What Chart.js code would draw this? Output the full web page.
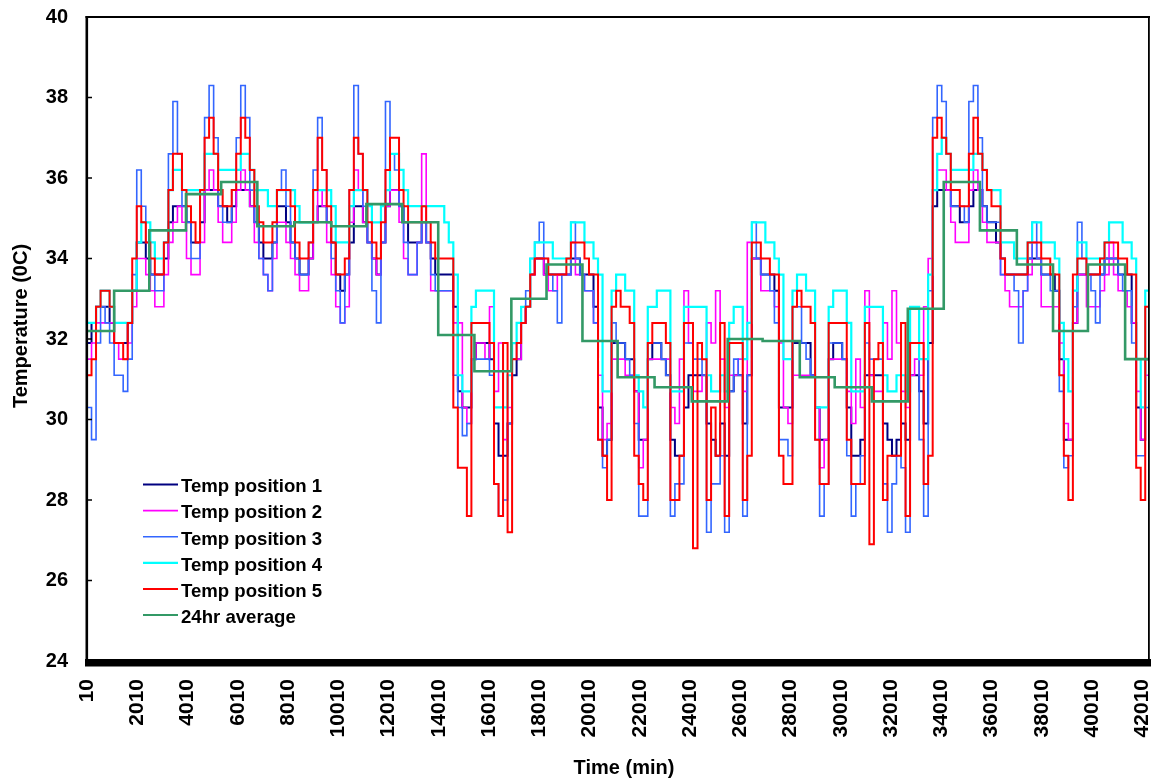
<!DOCTYPE html>
<html>
<head>
<meta charset="utf-8">
<script src="https://cdn.jsdelivr.net/npm/chart.js@4.4.1/dist/chart.umd.min.js"></script>
<style>
html,body{margin:0;padding:0;background:#fff;}
#wrap{position:relative;width:1151px;height:780px;}
</style>
</head>
<body>
<div id="wrap"><canvas id="c" width="1151" height="780"></canvas></div>
<script>
// ---- data (minutes, °C) ----
const sampleMinutes = Array.from({length: 236}, (_, i) => 10 + 180 * i);

const tempPosition1 = [
31.9,32.4,32.8,32.8,32.8,32.4,31.9,31.9,31.9,32.4,
33.2,34.4,34.4,34.0,33.6,33.6,33.6,34.0,34.9,35.3,
35.3,35.3,34.9,34.4,34.4,34.9,35.7,35.7,35.7,35.3,
35.3,34.9,35.3,35.7,35.7,35.7,35.3,34.9,34.4,34.0,
34.0,34.4,35.3,35.3,34.9,34.4,34.0,33.6,33.6,34.0,
34.9,35.3,35.3,34.9,34.4,33.6,33.2,33.6,34.4,35.3,
35.3,34.9,34.4,34.0,33.6,34.4,35.3,35.7,35.7,35.3,
34.9,34.4,34.4,34.4,34.9,34.4,34.0,33.6,33.6,33.6,
33.6,32.8,30.7,30.3,30.3,31.5,31.9,31.9,31.9,31.5,
29.9,29.1,29.1,29.9,31.1,31.5,32.4,32.8,33.6,34.0,
34.0,33.6,33.6,33.6,33.6,33.6,33.6,34.0,34.0,33.6,
33.6,33.6,32.8,30.3,29.1,29.5,31.9,31.9,31.9,31.5,
31.5,30.7,29.5,29.5,31.5,31.9,31.9,31.5,31.1,29.5,
29.1,29.1,30.3,31.1,31.1,31.1,31.1,29.9,29.5,29.1,
29.9,29.1,30.7,31.1,31.1,29.9,31.1,34.0,34.0,33.6,
33.6,33.6,33.2,30.3,30.3,30.3,31.9,31.9,31.9,31.9,
31.1,30.3,29.5,29.5,31.5,31.9,31.9,31.5,30.3,29.1,
29.1,29.5,31.1,31.1,31.1,31.1,29.9,29.5,29.1,29.5,
29.9,29.5,31.1,31.1,30.7,29.9,31.9,35.3,35.7,35.7,
35.7,35.3,35.3,34.9,34.9,35.3,35.7,35.7,35.3,34.9,
34.9,34.4,34.0,33.6,33.6,33.6,33.6,33.6,34.0,34.0,
34.0,33.6,33.6,33.6,33.2,31.5,29.5,29.5,32.4,33.6,
33.6,33.6,33.6,33.6,33.6,34.0,34.0,34.0,33.6,33.6,
33.6,32.4,30.3,29.5,31.5,32.4];

const tempPosition2 = [
31.5,31.9,32.4,32.4,32.4,32.4,31.9,31.5,31.5,31.9,
32.8,34.0,34.0,33.6,33.2,32.8,32.8,33.6,34.4,34.9,
35.3,34.9,34.0,33.6,33.6,34.4,35.7,36.2,35.7,34.9,
34.4,34.4,34.9,35.7,36.2,35.7,35.3,34.4,34.0,33.6,
33.2,34.0,34.9,34.9,34.4,34.0,33.6,33.2,33.2,34.0,
34.9,35.7,35.3,34.4,33.6,32.8,32.4,32.8,34.9,36.2,
35.7,34.9,34.4,34.0,33.6,34.4,35.3,35.7,35.7,34.9,
34.0,33.6,33.6,34.4,36.6,34.4,33.2,33.2,33.2,33.2,
33.2,32.4,32.4,30.3,29.9,31.5,31.9,31.9,31.5,32.8,
30.7,31.9,29.5,30.3,31.5,31.5,32.4,32.8,33.6,34.0,
34.0,33.6,33.2,33.2,33.6,33.6,33.6,34.4,33.6,33.6,
33.2,33.2,32.4,31.1,29.5,29.9,31.5,31.5,31.5,31.1,
31.1,30.7,28.8,29.5,31.5,31.5,31.5,31.5,31.5,30.3,
29.9,31.5,33.2,31.9,30.7,30.7,31.1,32.4,31.9,33.2,
31.5,30.3,31.1,31.1,31.5,30.7,34.4,34.0,34.0,33.2,
33.2,33.2,32.8,31.9,30.3,29.9,31.1,31.1,31.1,31.1,
31.1,30.3,28.8,29.5,31.5,31.5,31.5,31.5,30.7,29.9,
31.5,30.3,33.2,31.1,30.7,30.7,32.4,31.5,33.2,31.9,
30.7,30.3,31.1,31.5,31.1,32.8,34.0,35.7,36.2,36.2,
35.7,34.9,34.4,34.4,34.4,35.7,36.2,35.7,34.9,34.4,
34.4,34.4,33.6,33.2,32.8,32.8,32.8,33.2,33.6,34.4,
34.0,32.8,32.8,32.8,32.8,31.9,29.9,29.5,32.4,33.6,
33.6,32.8,32.8,32.8,33.2,33.6,34.4,33.6,33.2,33.2,
32.8,32.4,30.7,29.5,31.1,31.9];

const tempPosition3 = [
30.3,29.5,31.9,32.8,32.4,31.9,31.1,31.1,30.7,31.5,
33.6,36.2,35.3,34.4,33.6,33.2,33.2,34.4,36.6,37.9,
36.6,35.3,34.9,34.0,34.0,35.7,37.5,38.3,37.0,35.3,
34.9,34.9,35.7,37.0,38.3,37.5,35.7,34.9,34.0,33.6,
33.2,34.4,35.7,36.2,35.3,34.4,34.0,33.6,33.6,34.4,
36.2,37.5,36.2,34.9,34.0,33.2,32.4,33.6,35.7,38.3,
36.6,35.3,34.4,33.2,32.4,34.4,37.9,36.6,36.2,35.3,
34.4,33.6,33.6,34.4,34.9,34.4,33.6,33.2,33.2,33.2,
33.2,31.1,30.3,29.6,29.9,31.5,31.5,31.5,31.5,31.1,
28.4,27.6,28.0,29.9,31.5,31.9,32.4,33.2,34.0,34.4,
34.9,34.0,33.6,33.2,32.4,33.6,33.6,34.9,34.0,33.6,
33.2,33.2,32.4,29.5,28.8,29.5,32.4,31.9,31.9,31.5,
31.1,29.9,27.6,27.6,31.9,31.9,31.9,31.5,31.1,27.6,
28.4,28.4,31.9,31.9,31.5,31.5,31.1,27.2,28.4,28.4,
29.1,27.2,30.7,31.5,31.1,27.6,31.1,34.9,34.0,33.6,
33.6,33.2,32.4,29.5,29.5,29.1,32.8,32.8,31.9,31.5,
31.1,29.5,27.6,28.4,31.9,31.9,31.9,31.5,29.1,27.6,
28.4,29.1,31.9,31.5,31.5,31.5,28.4,27.2,28.4,29.1,
28.8,27.2,31.9,31.9,29.5,27.6,33.2,37.5,38.3,37.9,
36.6,35.3,35.3,35.3,34.9,37.9,38.3,37.0,35.3,34.9,
34.9,34.9,33.6,33.6,33.6,33.2,31.9,33.2,34.0,34.9,
34.0,33.6,33.6,33.2,33.2,30.7,28.8,29.1,32.8,34.9,
34.0,33.6,33.2,32.4,33.6,34.0,34.0,34.0,33.6,33.2,
33.2,31.9,29.1,29.1,30.3,32.4];

const tempPosition4 = [
32.4,32.4,32.8,33.2,33.2,32.8,32.4,32.4,32.4,32.4,
33.2,34.4,34.9,34.9,34.4,34.0,34.0,34.4,35.7,36.2,
36.2,35.7,35.7,35.7,35.7,35.7,36.6,36.6,36.6,36.2,
36.2,36.2,36.2,36.2,36.6,36.6,36.2,35.7,35.7,35.7,
35.3,35.3,35.7,35.7,35.7,35.7,35.3,34.9,34.9,34.9,
35.7,35.7,35.7,35.7,35.3,34.4,34.4,34.4,35.3,35.7,
35.7,35.7,35.3,34.9,34.9,35.3,35.7,36.6,36.6,36.2,
35.7,35.3,35.3,35.3,35.3,35.3,35.3,35.3,35.3,34.9,
34.4,33.6,31.1,30.7,30.7,32.8,33.2,33.2,33.2,33.2,
30.3,30.3,30.3,31.1,31.9,32.4,32.8,32.8,34.0,34.4,
34.4,34.4,34.4,34.0,34.0,34.0,34.0,34.9,34.9,34.9,
34.4,34.4,34.0,33.6,30.7,30.7,33.2,33.6,33.6,33.2,
33.2,31.1,30.7,30.3,32.8,32.8,33.2,33.2,33.2,30.7,
30.7,30.7,32.8,32.8,32.8,32.8,32.8,31.1,30.7,30.7,
31.1,30.7,32.4,32.8,32.8,31.5,32.4,34.9,34.9,34.9,
34.4,34.4,34.0,33.6,31.5,31.5,33.2,33.6,33.6,33.2,
33.2,30.3,30.3,30.3,32.8,33.2,33.2,33.2,32.4,30.7,
30.7,30.7,32.8,32.8,32.8,32.8,31.1,30.7,30.7,31.1,
31.1,30.7,32.8,32.8,31.5,31.5,33.6,35.7,36.6,37.0,
36.6,36.2,36.2,36.2,36.2,36.2,36.6,36.6,36.2,35.7,
35.7,35.7,34.4,34.4,34.4,34.0,34.0,34.0,34.4,34.9,
34.9,34.4,34.4,34.4,34.0,32.4,31.5,30.7,33.2,34.4,
34.4,34.0,34.0,34.0,34.0,34.4,34.9,34.9,34.9,34.4,
34.4,34.0,31.5,30.3,33.2,33.2];

const tempPosition5 = [
31.1,31.5,32.8,33.2,33.2,32.8,31.9,31.9,31.5,32.4,
34.0,35.3,34.9,34.4,34.0,33.6,33.6,34.4,35.7,36.6,
36.6,35.7,35.3,34.9,34.4,35.7,37.0,37.5,36.6,35.7,
35.3,35.3,35.7,36.6,37.5,37.0,36.2,35.3,34.9,34.4,
34.4,34.9,35.7,35.7,35.7,35.3,34.4,34.0,34.0,34.4,
35.7,37.0,36.2,35.3,34.4,33.6,33.6,34.0,35.7,37.0,
36.6,35.7,34.9,34.4,34.0,34.9,36.2,37.0,37.0,35.7,
35.3,34.9,34.9,34.9,35.3,34.9,34.4,34.0,34.0,34.0,
34.0,30.3,28.8,28.8,27.6,32.4,32.4,32.4,32.4,31.9,
28.4,27.6,31.9,27.2,31.5,31.9,32.4,32.8,33.6,34.0,
34.0,34.0,33.6,33.6,33.6,33.6,34.0,34.4,34.4,34.4,
34.0,33.6,33.6,29.5,29.1,28.0,32.8,33.2,32.8,32.8,
32.4,29.1,28.4,28.0,31.9,32.4,32.4,32.4,31.9,28.0,
28.0,29.1,32.4,32.4,26.8,31.9,31.5,28.0,30.3,29.1,
32.4,27.6,31.9,31.9,31.9,28.0,29.1,34.4,34.4,34.0,
34.0,33.6,33.6,29.1,28.4,28.4,32.8,33.2,32.8,32.8,
32.4,29.5,28.4,28.4,32.4,32.4,32.4,32.4,29.5,28.4,
28.4,28.4,32.4,26.9,31.5,31.9,28.0,29.1,29.1,29.1,
32.4,27.6,31.9,31.9,31.9,28.4,29.1,37.0,37.5,37.0,
36.6,35.7,35.7,35.3,35.3,36.6,37.5,36.6,36.2,35.7,
35.3,35.3,34.0,33.6,33.6,33.6,33.6,33.6,34.4,34.4,
34.4,34.0,34.0,33.6,33.6,31.1,29.1,28.0,33.6,34.0,
34.0,33.6,33.6,33.6,34.0,34.4,34.4,34.4,34.0,34.0,
33.6,33.6,28.8,28.0,32.8,32.8];

const avgMinutes = [10,1090,2490,3950,5350,6790,8260,9730,11130,12560,13990,15430,16900,18300,19730,21130,22600,24080,25510,26900,28380,29770,31250,32680,34110,35550,37020,38460,39850,41330,42280];
const avgValues  = [32.2,33.2,34.7,35.6,35.9,34.8,34.9,34.8,35.35,34.9,32.1,31.2,33.0,33.85,31.95,31.05,30.8,30.45,32.0,31.95,31.05,30.8,30.45,32.75,35.9,34.7,33.85,32.2,33.85,31.5,31.5];

const xTickMinutes = [10,2010,4010,6010,8010,10010,12010,14010,16010,18010,20010,22010,24010,26010,28010,30010,32010,34010,36010,38010,40010,42010];
const seriesLabels = ['Temp position 1','Temp position 2','Temp position 3','Temp position 4','Temp position 5','24hr average'];
const xTitle = 'Time (min)';
const yTitle = 'Temperature (0C)';

// ---- chart ----
const FONT = '"Liberation Sans", Arial, Helvetica, sans-serif';
Chart.defaults.font.family = FONT;
Chart.defaults.color = '#000';

function toPoints(xs, ys) { return ys.map((v, i) => ({x: xs[i], y: v})); }

const colors = ['#000080', '#FF00FF', '#3366FF', '#00FFFF', '#FF0000', '#339966'];
const widths = [2, 1.6, 1.6, 2.2, 2, 2.6];
const orders = [6, 5, 4, 3, 2, 1];
const seriesData = [tempPosition1, tempPosition2, tempPosition3, tempPosition4, tempPosition5];

const datasets = seriesData.map((vals, i) => ({
  label: seriesLabels[i],
  data: toPoints(sampleMinutes, vals),
  borderColor: colors[i], backgroundColor: colors[i],
  borderWidth: widths[i], order: orders[i],
  pointRadius: 0, stepped: true, tension: 0, fill: false
}));
datasets.push({
  label: seriesLabels[5],
  data: toPoints(avgMinutes, avgValues),
  borderColor: colors[5], backgroundColor: colors[5],
  borderWidth: widths[5], order: orders[5],
  pointRadius: 0, stepped: true, tension: 0, fill: false
});

const decor = {
  id: 'decor',
  afterDraw(chart) {
    const {ctx, chartArea: a, scales: {y}} = chart;
    ctx.save();
    ctx.fillStyle = '#000';
    // frame
    ctx.fillRect(a.left - 1.5, a.top - 1, 2.6, a.bottom - a.top + 2);
    ctx.fillRect(a.left - 1.5, a.top - 1, a.right - a.left + 2.5, 2);
    ctx.fillRect(a.right - 1, a.top - 1, 1.8, a.bottom - a.top + 2);
    // thick category axis bar
    ctx.fillRect(a.left - 2, a.bottom - 2, a.right - a.left + 4, 7.5);
    // y tick marks (inside)
    y.ticks.forEach(t => {
      const py = y.getPixelForValue(t.value);
      ctx.fillRect(a.left, py - 0.75, 5, 1.5);
    });
    // axis titles
    ctx.font = 'bold 20px ' + FONT;
    ctx.textAlign = 'center';
    ctx.textBaseline = 'alphabetic';
    ctx.fillText(xTitle, 624, 773.5);
    ctx.save();
    ctx.translate(26.5, 326);
    ctx.rotate(-Math.PI / 2);
    ctx.fillText(yTitle, 0, 0);
    ctx.restore();
    // legend
    ctx.font = 'bold 18.6px ' + FONT;
    ctx.textAlign = 'left';
    chart.data.datasets.forEach((ds, i) => {
      const ly = 484.5 + 26.1 * i;
      ctx.strokeStyle = ds.borderColor;
      ctx.lineWidth = Math.min(ds.borderWidth, 2.2);
      ctx.beginPath();
      ctx.moveTo(143, ly);
      ctx.lineTo(178, ly);
      ctx.stroke();
      ctx.fillStyle = '#000';
      ctx.fillText(ds.label, 181, ly + 7.8);
    });
    ctx.restore();
  }
};

new Chart(document.getElementById('c'), {
  type: 'line',
  data: {datasets},
  options: {
    responsive: false,
    animation: false,
    events: [],
    layout: {autoPadding: false, padding: {left: 0, right: 2, top: 17, bottom: 0}},
    plugins: {legend: {display: false}, tooltip: {enabled: false}, title: {display: false}},
    scales: {
      x: {
        type: 'linear', min: 10, max: 42280,
        afterBuildTicks: s => { s.ticks = xTickMinutes.map(v => ({value: v})); },
        afterFit: s => { s.height = 119; s.paddingLeft = 0; s.paddingRight = 0; },
        ticks: {autoSkip: false, minRotation: 90, maxRotation: 90, padding: 18,
                font: {size: 21, weight: 'bold'}, color: '#000', callback: v => String(v)},
        grid: {display: false, drawTicks: false},
        border: {display: false}
      },
      y: {
        min: 24, max: 40,
        afterFit: s => { s.width = 87; s.paddingTop = 0; s.paddingBottom = 0; },
        ticks: {stepSize: 2, padding: 19, font: {size: 20, weight: 'bold'}, color: '#000'},
        grid: {display: false, drawTicks: false},
        border: {display: false}
      }
    }
  },
  plugins: [decor]
});
</script>
</body>
</html>
